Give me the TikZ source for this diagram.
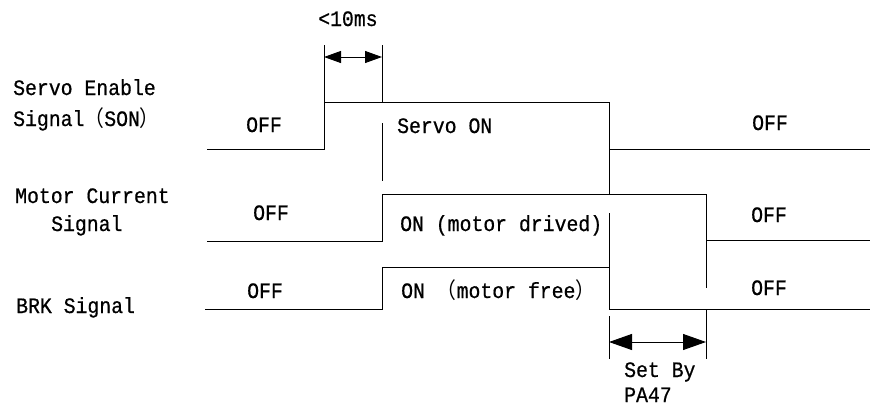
\documentclass[tikz,border=0pt]{standalone}
\usepackage{fontspec}
\setmainfont[FakeStretch=0.9,FakeBold=0.6]{Liberation Mono}
\newfontfamily\cjk[FakeStretch=0.9]{Noto Sans CJK SC}
\usetikzlibrary{arrows.meta}
\begin{document}
\begin{tikzpicture}[x=1pt,y=-1pt,
  wave/.style={line width=1pt,line join=miter},
  guide/.style={line width=1pt},
  lbl/.style={anchor=base west,inner sep=0pt,font=\fontsize{22}{26}\selectfont},
  dimsmall/.style={line width=1pt,{Triangle[length=17pt,width=12pt]}-{Triangle[length=17pt,width=12pt]}},
  dimbig/.style={line width=1pt,{Triangle[length=23pt,width=16pt]}-{Triangle[length=23pt,width=16pt]}}]
\useasboundingbox (0,0) rectangle (870,405);
% key coordinates
\coordinate (t0) at (324,0);
\coordinate (t1) at (382,0);
\coordinate (t2) at (609,0);
\coordinate (t3) at (706,0);
% signal labels
\node[lbl] (son1) at (13,95) {Servo Enable};
\node[lbl] (son2) at (13,126) {Signal{\cjk（}SON{\cjk）}};
\node[lbl] (mc1) at (15,203) {Motor Current};
\node[lbl] (mc2) at (51,231) {Signal};
\node[lbl] (brk) at (16,313) {BRK Signal};
% state labels
\node[lbl] (s1) at (246,132) {OFF};
\node[lbl] (s2) at (397,133) {Servo ON};
\node[lbl] (s3) at (752,130) {OFF};
\node[lbl] (m1) at (253,220) {OFF};
\node[lbl] (m2) at (400,231) {ON (motor drived)};
\node[lbl] (m3) at (751,222) {OFF};
\node[lbl] (b1) at (247,298) {OFF};
\node[lbl] (b2) at (401,298) {ON {\cjk（}motor free{\cjk）}};
\node[lbl] (b3) at (751,295) {OFF};
\node[lbl] (d1) at (318,26) {<10ms};
\node[lbl] (d2) at (624,377) {Set By};
\node[lbl] (d3) at (624,402) {PA47};
% waveforms
\draw[wave] (207,149) -- (324,149) -- (324,102) -- (609,102) -- (609,149) -- (870,149);
\draw[wave] (207,241) -- (382,241) -- (382,194) -- (706,194) -- (706,240) -- (870,240);
\draw[wave] (205,309) -- (382,309) -- (382,267) -- (609,267) -- (609,309) -- (870,309);
% guide lines
\draw[guide] (324,45) -- (324,102);
\draw[guide] (382,45) -- (382,102);
\draw[guide] (382,123) -- (382,181);
\draw[guide] (609,149) -- (609,194);
\draw[guide] (609,213) -- (609,267);
\draw[guide] (706,240) -- (706,288);
\draw[guide] (609,316) -- (609,359);
\draw[guide] (706,310) -- (706,359);
% dimension arrows
\draw[dimsmall] (324,57) -- (382,57);
\draw[dimbig] (609,342) -- (706,342);
\end{tikzpicture}
\end{document}
